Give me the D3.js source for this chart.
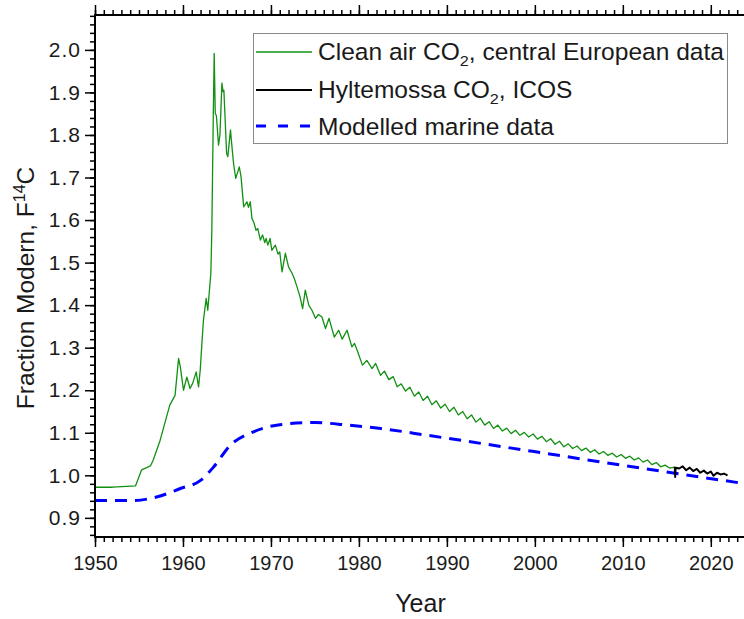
<!DOCTYPE html>
<html>
<head>
<meta charset="utf-8">
<script src="https://cdn.jsdelivr.net/npm/d3@7"></script>
<style>
  html, body { margin: 0; padding: 0; background: #fff; }
  svg { display: block; font-family: "Liberation Sans", Arial, sans-serif; }
</style>
</head>
<body>
<svg id="chart" width="744" height="619"></svg>
<script>
// Clean air CO2, central European record: [year, F14C]
const cleanAirYears = [
  1950.0, 1952.0, 1954.6, 1955.3, 1956.3, 1956.6, 1957.4, 1958.5, 1959.1, 1959.5, 1959.7,
  1960.06, 1960.44, 1960.8, 1961.1, 1961.5, 1961.77, 1961.96, 1962.15, 1962.33, 1962.64,
  1962.82, 1963.17, 1963.28, 1963.45, 1963.55, 1963.67, 1963.8, 1964.04, 1964.2, 1964.43,
  1964.55, 1964.65, 1964.96, 1965.1, 1965.4, 1965.5, 1965.75, 1966.0, 1966.4, 1966.6,
  1966.9, 1967.27, 1967.45, 1967.65, 1967.84, 1968.05, 1968.3, 1968.5, 1968.8, 1969.05,
  1969.3, 1969.45, 1969.65, 1969.9, 1970.1, 1970.5, 1970.8, 1971.0, 1971.26, 1971.64,
  1972.0, 1972.4, 1972.7, 1972.96, 1973.3, 1973.6, 1973.9, 1974.3, 1974.66, 1975.06,
  1975.4, 1975.8, 1976.2, 1976.6, 1977.2, 1977.7, 1978.1,
  1978.65, 1979.2, 1979.5, 1979.8, 1980.4, 1980.9, 1981.5, 1981.9, 1982.46, 1982.9,
  1983.4, 1983.9, 1984.35, 1984.8, 1985.3, 1985.8, 1986.3, 1986.8, 1987.3, 1987.8,
  1988.3, 1988.8, 1989.3, 1989.8, 1990.3, 1990.8, 1991.3, 1991.8, 1992.3, 1992.8,
  1993.3, 1993.8, 1994.3, 1994.8, 1995.3, 1995.8, 1996.3, 1996.8, 1997.3, 1997.8,
  1998.3, 1998.8, 1999.3, 1999.8, 2000.3, 2000.8, 2001.3, 2001.8, 2002.3, 2002.8,
  2003.3, 2003.8, 2004.3, 2004.8, 2005.3, 2005.8, 2006.3, 2006.8, 2007.3, 2007.8,
  2008.3, 2008.8, 2009.3, 2009.8, 2010.3, 2010.8, 2011.3, 2011.8, 2012.3, 2012.8,
  2013.3, 2013.8, 2014.3, 2014.8, 2015.3, 2015.9
];
const cleanAirF14C = [
  0.972, 0.972, 0.975, 1.013, 1.022, 1.035, 1.082, 1.165, 1.188, 1.275, 1.255,
  1.200, 1.231, 1.204, 1.216, 1.243, 1.208, 1.247, 1.310, 1.365, 1.416,
  1.388, 1.475, 1.576, 1.850, 1.992, 1.851, 1.845, 1.776, 1.800, 1.922,
  1.902, 1.905, 1.757, 1.749, 1.812, 1.788, 1.733, 1.698, 1.725, 1.702,
  1.631, 1.643, 1.630, 1.643, 1.604, 1.595, 1.576, 1.580, 1.553, 1.565,
  1.547, 1.557, 1.541, 1.557, 1.529, 1.541, 1.520, 1.525, 1.478, 1.522,
  1.490, 1.475, 1.460, 1.443, 1.420, 1.392, 1.435, 1.400, 1.388, 1.369,
  1.378, 1.372, 1.345, 1.369, 1.325, 1.341, 1.320,
  1.341, 1.302, 1.310, 1.294, 1.259, 1.270, 1.251, 1.263, 1.235, 1.245,
  1.225, 1.232, 1.208, 1.215, 1.198, 1.207, 1.186, 1.196, 1.176, 1.186,
  1.166, 1.175, 1.158, 1.167, 1.150, 1.160, 1.142, 1.150, 1.133, 1.142,
  1.125, 1.134, 1.118, 1.126, 1.110, 1.118, 1.104, 1.111, 1.098, 1.106,
  1.094, 1.101, 1.090, 1.097, 1.085, 1.092, 1.079, 1.086, 1.073, 1.080,
  1.067, 1.074, 1.063, 1.069, 1.058, 1.064, 1.054, 1.060, 1.050, 1.056,
  1.047, 1.052, 1.043, 1.049, 1.040, 1.045, 1.036, 1.041, 1.031, 1.036,
  1.025, 1.030, 1.020, 1.024, 1.017, 1.019
];

// Hyltemossa CO2, ICOS station record
const hyltemossaYears = [
  2015.9, 2015.95, 2016.0, 2016.4, 2016.8, 2017.2, 2017.6, 2018.0, 2018.4,
  2018.8, 2019.2, 2019.6, 2020.0, 2020.3, 2020.7, 2021.1, 2021.5, 2021.9
];
const hyltemossaF14C = [
  1.020, 0.996, 1.018, 1.016, 1.021, 1.012, 1.018, 1.010, 1.015,
  1.006, 1.011, 1.004, 1.009, 0.999, 1.006, 1.002, 1.004, 1.000
];

// Modelled marine data
const marineYears = [
  1950, 1954.4, 1957, 1959.7, 1962, 1963.5, 1965.4, 1968, 1971,
  1975, 1978.7, 1982.5, 1987.8, 2001.4, 2009.8, 2024
];
const marineF14C = [
  0.941, 0.941, 0.949, 0.969, 0.988, 1.020, 1.071, 1.102, 1.119,
  1.124, 1.118, 1.110, 1.094, 1.051, 1.024, 0.980
];

// Axis ticks
const xMajorTicks = [1950, 1960, 1970, 1980, 1990, 2000, 2010, 2020];
const yMajorTicks = [0.9, 1.0, 1.1, 1.2, 1.3, 1.4, 1.5, 1.6, 1.7, 1.8, 1.9, 2.0];

const svg = d3.select("#chart");
const plotLeft = 95, plotRight = 746, plotTop = 15, plotBottom = 537;

const x = d3.scaleLinear().domain([1950, 2024]).range([plotLeft, plotRight]);
const y = d3.scaleLinear().domain([0.855, 2.082]).range([plotBottom, plotTop]);

const xMinor = d3.range(1950, 2025, 1);
const yMinor = d3.range(0, 62).map(i => +(0.86 + i * 0.02).toFixed(2)).filter(v => v <= 2.082);

// Clip region for data lines
svg.append("defs").append("clipPath").attr("id", "plotClip")
  .append("rect").attr("x", plotLeft).attr("y", plotTop)
  .attr("width", plotRight - plotLeft).attr("height", plotBottom - plotTop);

const plot = svg.append("g").attr("clip-path", "url(#plotClip)");

const zip = (xs, ys) => xs.map((v, i) => [v, ys[i]]);
const line = d3.line().x(d => x(d[0])).y(d => y(d[1]));
const smoothLine = d3.line().x(d => x(d[0])).y(d => y(d[1])).curve(d3.curveMonotoneX);

plot.append("path")
  .datum(zip(marineYears, marineF14C))
  .attr("d", smoothLine)
  .attr("fill", "none")
  .attr("stroke", "#0000ff")
  .attr("stroke-width", 3)
  .attr("stroke-dasharray", "12,8");

plot.append("path")
  .datum(zip(cleanAirYears, cleanAirF14C))
  .attr("d", line)
  .attr("fill", "none")
  .attr("stroke", "#129012")
  .attr("stroke-width", 1.3)
  .attr("stroke-linejoin", "round");

plot.append("path")
  .datum(zip(hyltemossaYears, hyltemossaF14C))
  .attr("d", line)
  .attr("fill", "none")
  .attr("stroke", "#000")
  .attr("stroke-width", 2)
  .attr("stroke-linejoin", "round");

// Axes
function styleAxis(g) {
  g.select(".domain").remove();
  g.selectAll(".tick line").attr("stroke", "#000").attr("stroke-width", 1.5);
  g.selectAll(".tick text").attr("fill", "#1a1a1a");
}

// bottom minor + major
svg.append("g").attr("transform", `translate(0,${plotBottom})`)
  .call(d3.axisBottom(x).tickValues(xMinor).tickSize(5).tickFormat(""))
  .call(styleAxis);
svg.append("g").attr("transform", `translate(0,${plotBottom})`)
  .call(d3.axisBottom(x).tickValues(xMajorTicks).tickSize(10).tickPadding(9).tickFormat(d3.format("d")))
  .call(styleAxis)
  .selectAll("text").attr("font-size", 20);

// top minor + major (no labels)
svg.append("g").attr("transform", `translate(0,${plotTop})`)
  .call(d3.axisTop(x).tickValues(xMinor).tickSize(5).tickFormat(""))
  .call(styleAxis);
svg.append("g").attr("transform", `translate(0,${plotTop})`)
  .call(d3.axisTop(x).tickValues(xMajorTicks).tickSize(10).tickFormat(""))
  .call(styleAxis);

// left minor + major
svg.append("g").attr("transform", `translate(${plotLeft},0)`)
  .call(d3.axisLeft(y).tickValues(yMinor).tickSize(5).tickFormat(""))
  .call(styleAxis);
svg.append("g").attr("transform", `translate(${plotLeft},0)`)
  .call(d3.axisLeft(y).tickValues(yMajorTicks).tickSize(10).tickPadding(4).tickFormat(d3.format(".1f")))
  .call(styleAxis)
  .selectAll("text").attr("font-size", 21).attr("letter-spacing", 1);

// Frame lines
svg.append("line").attr("x1", plotLeft).attr("x2", plotLeft).attr("y1", plotTop - 1).attr("y2", plotBottom + 1)
  .attr("stroke", "#000").attr("stroke-width", 2);
svg.append("line").attr("x1", plotLeft - 1).attr("x2", plotRight).attr("y1", plotBottom).attr("y2", plotBottom)
  .attr("stroke", "#000").attr("stroke-width", 2);
svg.append("line").attr("x1", plotLeft - 1).attr("x2", plotRight).attr("y1", plotTop).attr("y2", plotTop)
  .attr("stroke", "#000").attr("stroke-width", 2);

// Axis titles
svg.append("text")
  .attr("x", (plotLeft + plotRight) / 2).attr("y", 612)
  .attr("text-anchor", "middle").attr("font-size", 25).attr("fill", "#1a1a1a")
  .text("Year");

const yTitle = svg.append("text")
  .attr("transform", "translate(34,288) rotate(-90)")
  .attr("text-anchor", "middle").attr("font-size", 24.5).attr("fill", "#1a1a1a");
yTitle.append("tspan").text("Fraction Modern, F");
yTitle.append("tspan").attr("font-size", 16).attr("dy", -9).text("14");
yTitle.append("tspan").attr("dy", 9).text("C");

// Legend
const legend = svg.append("g");
legend.append("rect")
  .attr("x", 253.5).attr("y", 33.5).attr("width", 474).attr("height", 110)
  .attr("fill", "#fff").attr("stroke", "#8a8a8a").attr("stroke-width", 1);

const legendItems = [
  { pre: "Clean air CO", sub: "2", post: ", central European data", color: "#129012", width: 1.3, dash: null, ly: 52, ty: 60 },
  { pre: "Hyltemossa CO", sub: "2", post: ", ICOS", color: "#000", width: 2, dash: null, ly: 90, ty: 98 },
  { pre: "Modelled marine data", sub: "", post: "", color: "#0000ff", width: 3, dash: "10,12", ly: 126, ty: 135 }
];

legendItems.forEach(item => {
  legend.append("line")
    .attr("x1", 256).attr("x2", 312).attr("y1", item.ly).attr("y2", item.ly)
    .attr("stroke", item.color).attr("stroke-width", item.width)
    .attr("stroke-dasharray", item.dash);
  const t = legend.append("text")
    .attr("transform", `translate(318,${item.ty}) scale(1.045,1)`)
    .attr("font-size", 23.5).attr("fill", "#1a1a1a");
  t.append("tspan").text(item.pre);
  if (item.sub) {
    t.append("tspan").attr("font-size", 15.5).attr("dy", 6).text(item.sub);
    t.append("tspan").attr("dy", -6).text(item.post);
  }
});
</script>
</body>
</html>
